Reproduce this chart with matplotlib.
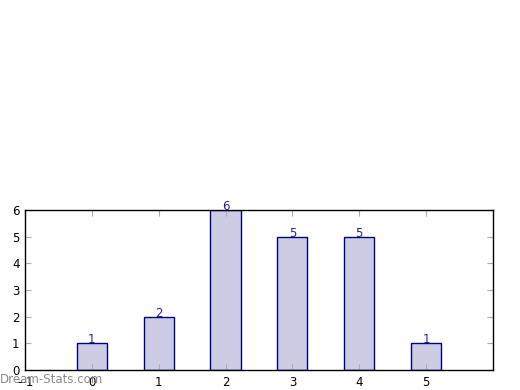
import matplotlib
matplotlib.use("Agg")
import matplotlib.pyplot as plt

categories = [0, 1, 2, 3, 4, 5]
counts = [1, 2, 6, 5, 5, 1]
xtick_values = [-1, 0, 1, 2, 3, 4, 5]
ytick_values = [0, 1, 2, 3, 4, 5, 6]

fig = plt.figure(figsize=(5.2, 3.9), dpi=100)
ax = fig.add_axes([0.048, 0.0513, 0.9, 0.4102])

ax.bar(categories, counts, width=0.45, align='center',
       color='#ccccE4', edgecolor='#000080', linewidth=1)
for x, c in zip(categories, counts):
    ax.text(x, c, str(c), ha='center', va='baseline', color='#222299',
            fontsize=8.5)

ax.set_xlim(-1, 6)
ax.set_ylim(0, 6)
ax.set_xticks(xtick_values)
ax.set_yticks(ytick_values)
ax.tick_params(direction='in', length=4, color='#aaaaaa', labelsize=8.5,
               top=True, right=True, pad=4)
for s in ax.spines.values():
    s.set_linewidth(1)

# watermark
fig.text(0.0, 0.01, "Dream-Stats.com", color='#8a8a8a', fontsize=8.5,
         ha='left', va='bottom')

fig.savefig("out.png", dpi=100)
